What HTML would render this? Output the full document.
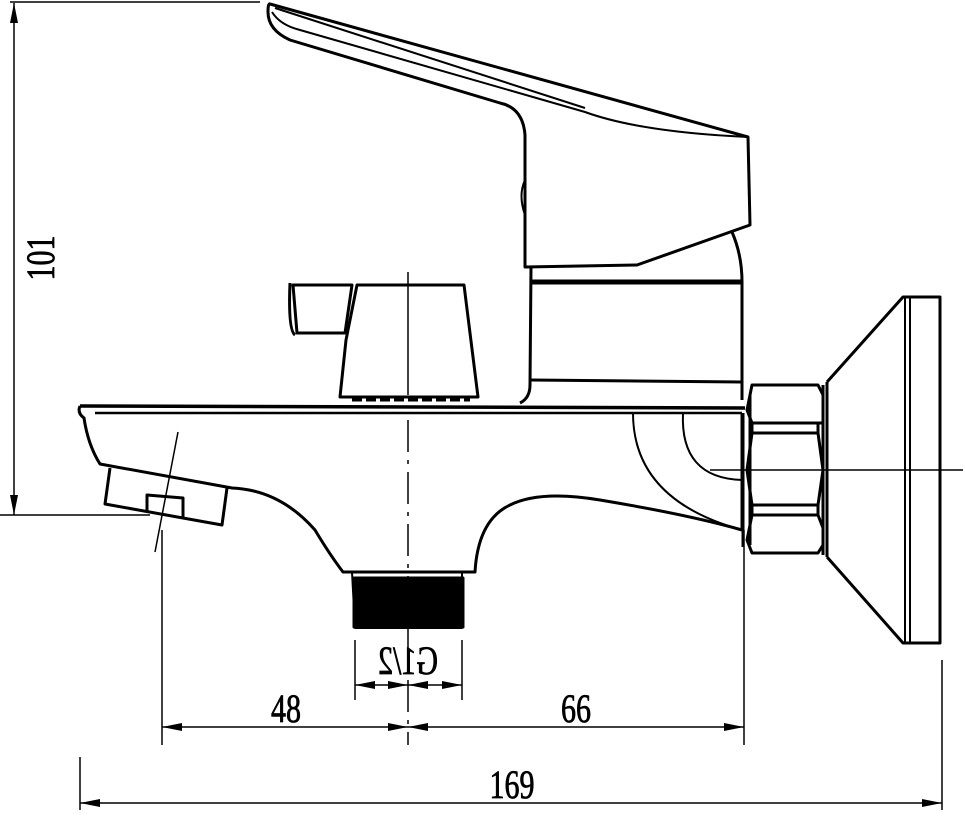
<!DOCTYPE html>
<html><head><meta charset="utf-8"><style>html,body{margin:0;padding:0;background:#fff}svg{display:block}</style></head><body>
<svg width="965" height="826" viewBox="0 0 965 826" xmlns="http://www.w3.org/2000/svg" fill="none" stroke="#000" stroke-linejoin="round">
<defs><marker id="a" viewBox="0 0 20 8" refX="20" refY="4" markerWidth="20" markerHeight="8" markerUnits="userSpaceOnUse" orient="auto-start-reverse"><path d="M0,0 L20,4 L0,8 Z" fill="#000" stroke="none"/></marker></defs>
<g stroke-width="3">
<path d="M270,4 L748,137 L750,225 L637,265 L525,267 L525,135 Q523,108 500,103 L290,40 Q268,30 268,12 Q268,3 270,4 Z"/>
<path d="M272,12 Q280,25 300,30 L585,112 Q640,132 748,137" stroke-width="2"/>
<path d="M275,8 L585,108" stroke-width="2"/>
<path d="M525,180 Q518,195 525,215" stroke-width="2"/>
<path d="M531,267 L530,385 Q530,398 520,403"/>
<path d="M732,232 Q742,255 742,282 L742,400"/>
<path d="M530,282 L742,282" stroke-width="5"/>
<path d="M531,380 L742,382"/>
<path d="M293,285 L352,285 L345,333 L297,333 Z"/>
<path d="M290,283 Q288,330 295,335"/>
<path d="M357,285 L464,285 L478,397 L340,397 L346,340 Z"/>
<path d="M352,400 L470,400" stroke-dasharray="10,4"/>
<path d="M80,406 L745,408" stroke-width="3.5"/>
<path d="M95,413 L742,413" stroke-width="2.5"/>
<path d="M80,406 Q77,413 84,418 Q88,445 100,464 L232,488 Q280,490 315,530 Q330,555 343,572 L475,572 Q478,520 510,505 Q540,490 600,500 Q690,515 742,530 L742,413"/>
<path d="M633,413 Q633,500 742,530" stroke-width="2"/>
<path d="M683,413 Q680,478 742,480" stroke-width="2"/>
<path d="M110,468 L105,504 L222,525 L227,488"/>
<path d="M147,512 L147,495 L183,498 L183,518"/>
<path d="M352,572 L462,572 L462,628 L355,628 Z" stroke-width="2"/>
<rect x="354" y="578" width="109" height="49" fill="#000"/>
<path d="M743,413 L743,547 M750,395 L750,545"/>
<path d="M752,385 L818,385 L823,395 L823,423 L818,423 L752,423 L747,410 Z"/>
<path d="M752,433 L818,433 L823,470 L818,505 L752,505 L747,470 Z"/>
<path d="M752,515 L818,515 L823,528 L823,545 L818,553 L752,553 L747,540 Z"/>
<path d="M752,423 L752,433 M818,423 L818,433 M752,505 L752,515 M818,505 L818,515"/>
<path d="M823,385 L823,555 M827,382 L827,557"/>
<path d="M827,382 L903,297 L940,297 L940,643 L903,643 L827,557"/>
<path d="M905,297 L905,643 M910,297 L910,643" stroke-width="2"/>
</g>
<g stroke-width="1.5">
<path d="M408,272 L408,395"/>
<path d="M408,420 L408,745" stroke-dasharray="32,8,4,8"/>
<path d="M710,470 L963,470"/>
<path d="M178,432 L155,552"/>
<path d="M10,2 L260,2 M0,515 L150,515"/>
<path d="M14,3 L14,515" marker-start="url(#a)" marker-end="url(#a)"/>
<path d="M162,530 L162,745 M744,530 L744,745"/>
<path d="M162,727 L408,727" marker-start="url(#a)" marker-end="url(#a)"/>
<path d="M408,727 L744,727" marker-start="url(#a)" marker-end="url(#a)"/>
<path d="M355,640 L355,700 M462,640 L462,700"/>
<path d="M355,685 L408,685" marker-start="url(#a)" marker-end="url(#a)"/>
<path d="M408,685 L462,685" marker-start="url(#a)" marker-end="url(#a)"/>
<path d="M80,757 L80,810 M942,660 L942,810"/>
<path d="M80,803 L942,803" marker-start="url(#a)" marker-end="url(#a)"/>
</g>
<g fill="#000" stroke="#000" stroke-width="0.8" font-family="Liberation Serif, serif" font-size="40">
<text transform="translate(54,258) rotate(-90) scale(0.75,1)" text-anchor="middle">101</text>
<text transform="translate(286,722) scale(0.75,1)" text-anchor="middle">48</text>
<text transform="translate(576,722) scale(0.75,1)" text-anchor="middle">66</text>
<text transform="translate(512,798) scale(0.75,1)" text-anchor="middle">169</text>
<text transform="translate(408,674) scale(-0.75,1)" text-anchor="middle">G1/2</text>
</g>
</svg>
</body></html>
